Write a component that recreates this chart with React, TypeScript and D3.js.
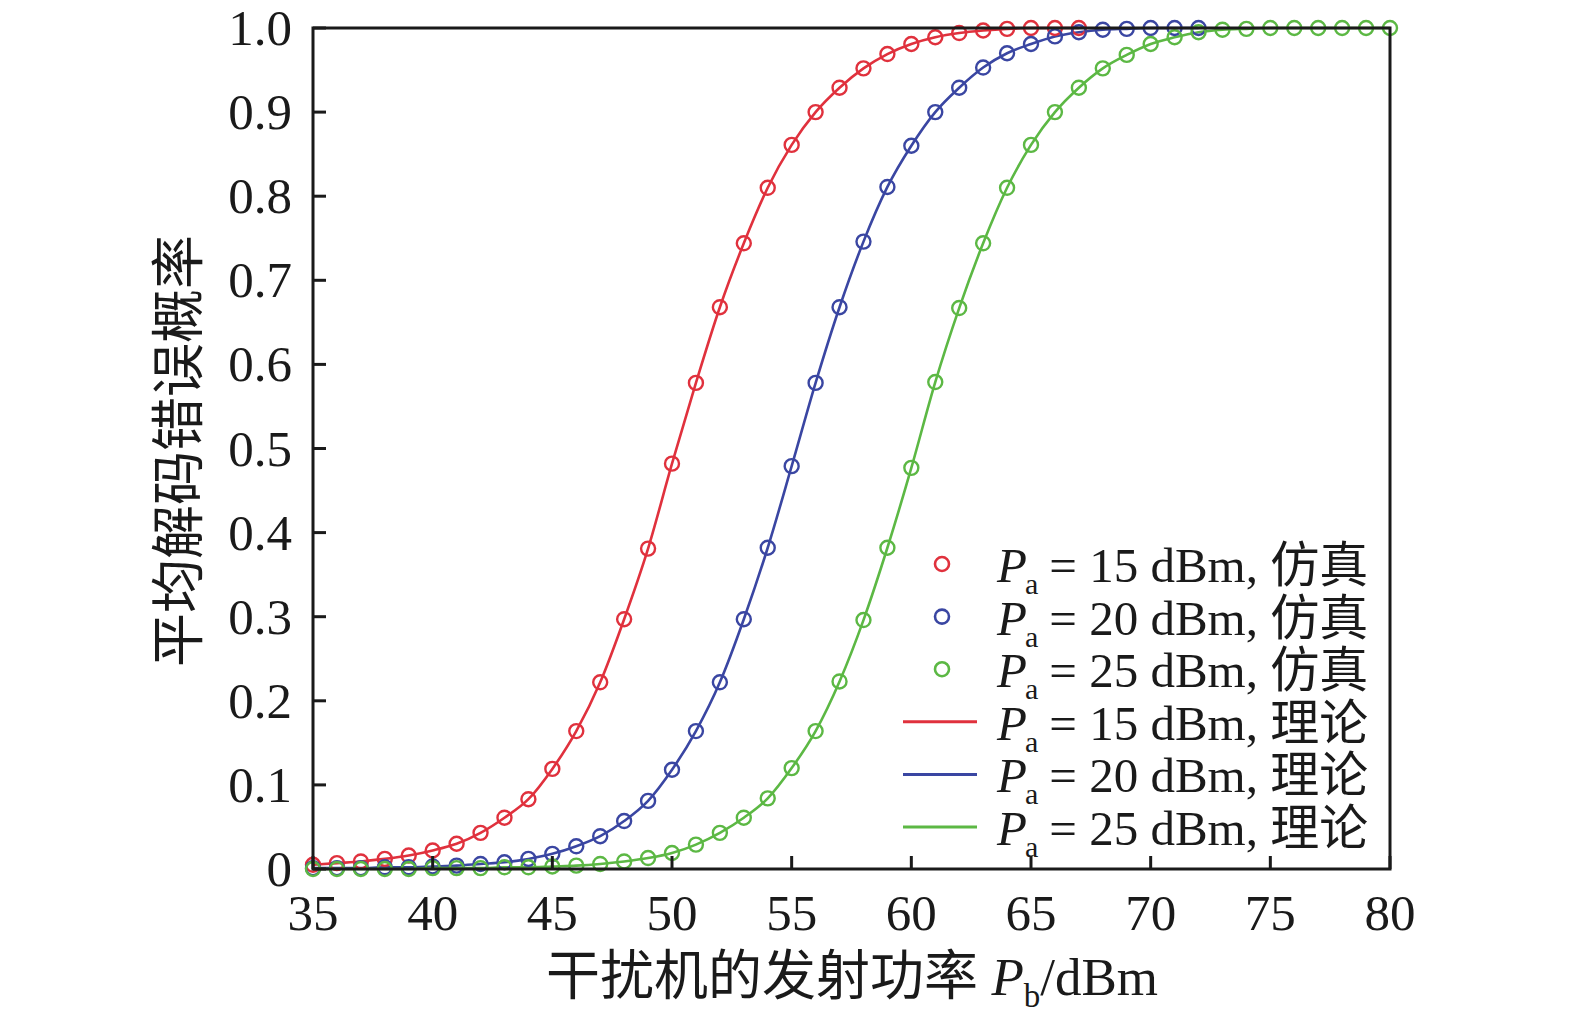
import React from "react";
import * as d3 from "d3";

const pb = [35,36,37,38,39,40,41,42,43,44,45,46,47,48,49,50,51,52,53,54,55,56,57,58,59,60,61,62,63,64,65,66,67,68,69,70,71,72,73,74,75,76,77,78,79,80];

const red15 = [0.005,0.007,0.009,0.012,0.016,0.022,0.030,0.043,0.061,0.083,0.119,0.164,0.222,0.297,0.381,0.482,0.578,0.668,0.744,0.810,0.861,0.900,0.929,0.952,0.969,0.981,0.989,0.994,0.997,0.999,1.0,1.0,1.0];
const blue20 = [0.001,0.001,0.001,0.002,0.002,0.003,0.004,0.006,0.008,0.012,0.018,0.027,0.039,0.057,0.081,0.118,0.164,0.222,0.297,0.382,0.479,0.578,0.668,0.746,0.811,0.860,0.900,0.929,0.953,0.970,0.981,0.990,0.995,0.998,0.999,1.0,1.0,1.0];
const green25 = [0.000,0.000,0.000,0.000,0.000,0.001,0.001,0.001,0.002,0.002,0.003,0.004,0.006,0.009,0.013,0.019,0.029,0.043,0.061,0.084,0.120,0.164,0.223,0.296,0.382,0.477,0.579,0.667,0.744,0.810,0.861,0.900,0.929,0.952,0.968,0.981,0.989,0.995,0.998,0.999,1.0,1.0,1.0,1.0,1.0,1.0];

const xTicks = [35,40,45,50,55,60,65,70,75,80];
const yTicks = [0,0.1,0.2,0.3,0.4,0.5,0.6,0.7,0.8,0.9,1.0];
const yTickLabels = ["0","0.1","0.2","0.3","0.4","0.5","0.6","0.7","0.8","0.9","1.0"];

const seriesNames = ["15","20","25"];
const seriesValues = [red15, blue20, green25];
const colors = ["#e0313d", "#3a46a2", "#5cb844"];

const FONT = "'Liberation Serif', 'Times New Roman', 'Noto Sans CJK SC', serif";

export default function App() {
  const W = 1575, H = 1029;
  const L = 313, R = 1390, T = 28, B = 869;
  const x = d3.scaleLinear().domain([35, 80]).range([L, R]);
  const y = d3.scaleLinear().domain([0, 1]).range([B, T]);
  const line = d3.line<number>()
    .x((_, i) => x(pb[i]))
    .y((d) => y(d))
    .curve(d3.curveMonotoneX);

  const legendRows = [
    { kind: "marker", s: 0, label: "仿真" },
    { kind: "marker", s: 1, label: "仿真" },
    { kind: "marker", s: 2, label: "仿真" },
    { kind: "line", s: 0, label: "理论" },
    { kind: "line", s: 1, label: "理论" },
    { kind: "line", s: 2, label: "理论" },
  ];

  return (
    <svg width={W} height={H} style={{ position: "absolute", left: 0, top: 0, background: "#fff" }} fontFamily={FONT}>
      {seriesValues.map((vals, si) => (
        <path key={"l" + si} d={line(vals) || ""} fill="none" stroke={colors[si]} strokeWidth={2.6} />
      ))}
      {seriesValues.map((vals, si) => (
        <g key={"m" + si}>
          {vals.map((v, i) => (
            <circle key={i} cx={x(pb[i])} cy={y(v)} r={7} fill="none" stroke={colors[si]} strokeWidth={2.4} />
          ))}
        </g>
      ))}
      <rect x={L} y={T} width={R - L} height={B - T} fill="none" stroke="#1a1a1a" strokeWidth={3} />
      {xTicks.map((t) => (
        <g key={"xt" + t}>
          <line x1={x(t)} x2={x(t)} y1={B} y2={B - 13} stroke="#1a1a1a" strokeWidth={3} />
          <text x={x(t)} y={930} textAnchor="middle" fontSize={51} fill="#1a1a1a">{t}</text>
        </g>
      ))}
      {yTicks.map((t, i) => (
        <g key={"yt" + t}>
          <line x1={L} x2={L + 13} y1={y(t)} y2={y(t)} stroke="#1a1a1a" strokeWidth={3} />
          <text x={292} y={y(t) + 17} textAnchor="end" fontSize={51} fill="#1a1a1a">{yTickLabels[i]}</text>
        </g>
      ))}
      <text x={852} y={995} textAnchor="middle" fontSize={53} fill="#1a1a1a">
        <tspan fontSize={54}>干扰机的发射功率 </tspan>
        <tspan fontStyle="italic">P</tspan>
        <tspan fontSize={33} dy={12}>b</tspan>
        <tspan dy={-12}>/dBm</tspan>
      </text>
      <text transform="translate(198,451) rotate(-90)" textAnchor="middle" fontSize={54} fill="#1a1a1a">平均解码错误概率</text>
      {legendRows.map((r, i) => {
        const cy = 564 + i * 52.6;
        return (
          <g key={"lg" + i}>
            {r.kind === "marker" ? (
              <circle cx={942} cy={cy} r={7} fill="none" stroke={colors[r.s]} strokeWidth={2.6} />
            ) : (
              <line x1={903} x2={977} y1={cy} y2={cy} stroke={colors[r.s]} strokeWidth={3} />
            )}
            <text x={997} y={cy + 18} fontSize={49} fill="#1a1a1a">
              <tspan fontStyle="italic">P</tspan>
              <tspan fontSize={30} dy={12} dx={-2}>a</tspan>
              <tspan dy={-12} dx={11}>= {seriesNames[r.s]} dBm, </tspan>
              <tspan>{r.label}</tspan>
            </text>
          </g>
        );
      })}
    </svg>
  );
}
